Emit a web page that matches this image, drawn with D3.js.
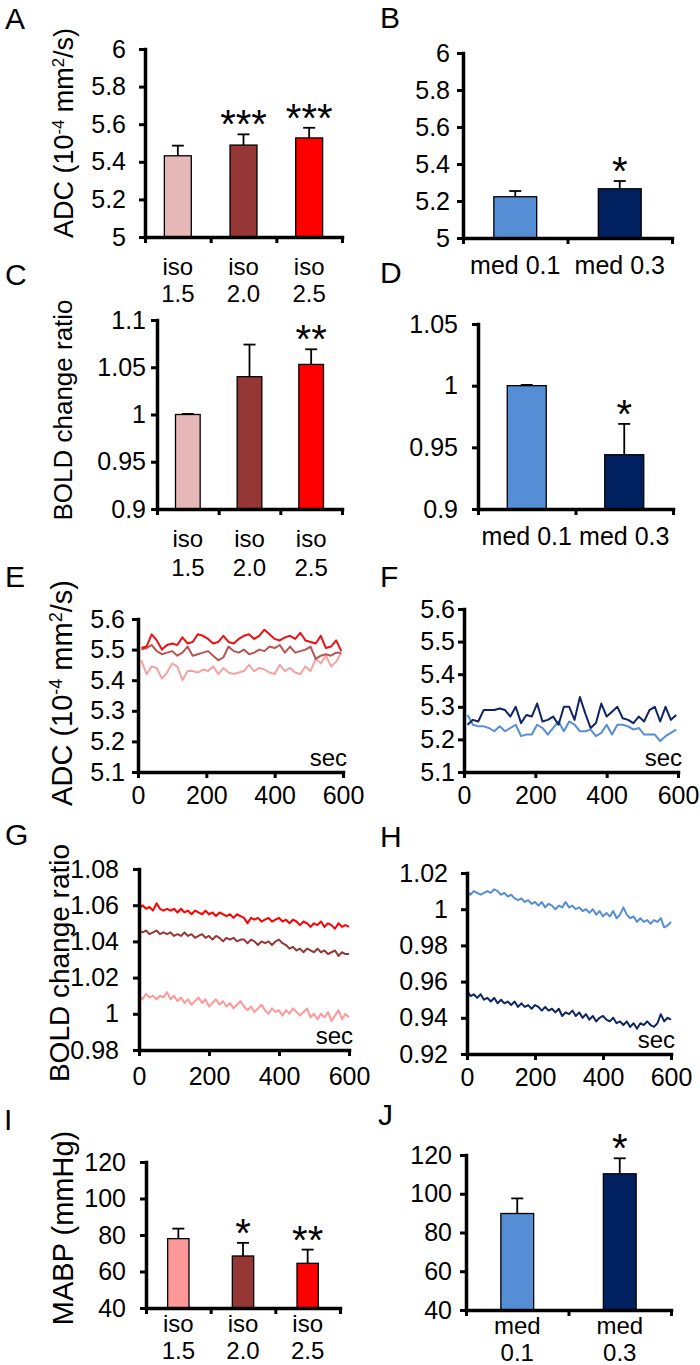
<!DOCTYPE html>
<html><head><meta charset="utf-8">
<script src="https://cdn.jsdelivr.net/npm/d3@7"></script>
<style>
body{margin:0;background:#fff}
svg text{font-family:"Liberation Sans",Arial,sans-serif;fill:#000}
</style>
</head><body>
<svg id="c" width="700" height="1365"></svg>
<script>
// ---------------- DATA ----------------
const catIso = [["iso","1.5"],["iso","2.0"],["iso","2.5"]];
const catMedOne = [["med 0.1"],["med 0.3"]];
const catMedTwo = [["med","0.1"],["med","0.3"]];

const adcIso = [5.432, 5.489, 5.527];
const adcIsoErr = [0.054, 0.057, 0.054];
const adcIsoSig = ["", "***", "***"];
const adcMed = [5.223, 5.266];
const adcMedErr = [0.031, 0.042];
const adcMedSig = ["", "*"];

const boldIso = [1.0, 1.04, 1.053];
const boldIsoErr = [0.0006, 0.034, 0.016];
const boldIsoSig = ["", "", "**"];
const boldMed = [1.0, 0.944];
const boldMedErr = [0.0006, 0.025];
const boldMedSig = ["", "*"];

const mabpIso = [78, 68.5, 64.5];
const mabpIsoErr = [5.5, 7.2, 7.5];
const mabpIsoSig = ["", "*", "**"];
const mabpMed = [89.8, 110.3];
const mabpMedErr = [7.8, 8.0];
const mabpMedSig = ["", "*"];

const tickADC = [5, 5.2, 5.4, 5.6, 5.8, 6];
const tickBoldIso = [0.9, 0.95, 1, 1.05, 1.1];
const tickBoldMed = [0.9, 0.95, 1, 1.05];
const tickAdcTime = [5.1, 5.2, 5.3, 5.4, 5.5, 5.6];
const tickBoldTimeIso = [0.98, 1, 1.02, 1.04, 1.06, 1.08];
const tickBoldTimeMed = [0.92, 0.94, 0.96, 0.98, 1, 1.02];
const tickMabp = [40, 60, 80, 100, 120];
const tickSec = [0, 200, 400, 600];

// ADC time courses (sec, 15-s sampling)
const secADC = [10,25,40,55,70,85,100,115,130,145,160,175,190,205,220,235,250,265,280,295,310,325,340,355,370,385,400,415,430,445,460,475,490,505,520,535,550,565,580,595];
const adcT_iso15 = [5.465,5.42,5.445,5.44,5.405,5.425,5.455,5.445,5.40,5.43,5.43,5.425,5.435,5.43,5.445,5.42,5.44,5.425,5.42,5.425,5.43,5.45,5.43,5.44,5.435,5.425,5.42,5.45,5.43,5.44,5.425,5.42,5.445,5.43,5.47,5.455,5.48,5.445,5.46,5.49];
const adcT_iso20 = [5.50,5.505,5.515,5.495,5.485,5.49,5.495,5.48,5.49,5.51,5.48,5.485,5.49,5.495,5.48,5.465,5.475,5.51,5.495,5.49,5.50,5.485,5.49,5.50,5.495,5.51,5.505,5.515,5.49,5.51,5.49,5.495,5.50,5.51,5.47,5.48,5.485,5.48,5.49,5.49];
const adcT_iso25 = [5.505,5.51,5.55,5.53,5.50,5.515,5.52,5.515,5.54,5.52,5.525,5.55,5.545,5.535,5.52,5.525,5.545,5.525,5.52,5.535,5.545,5.55,5.535,5.545,5.565,5.55,5.535,5.53,5.54,5.545,5.535,5.555,5.53,5.525,5.52,5.545,5.505,5.51,5.53,5.495];
const adcT_med01 = [5.275,5.245,5.24,5.24,5.235,5.225,5.24,5.225,5.235,5.245,5.21,5.215,5.215,5.245,5.235,5.215,5.235,5.255,5.225,5.255,5.245,5.225,5.225,5.23,5.21,5.22,5.245,5.215,5.245,5.245,5.24,5.23,5.235,5.215,5.215,5.215,5.195,5.21,5.22,5.23];
const adcT_med03 = [5.245,5.26,5.255,5.29,5.29,5.29,5.295,5.29,5.27,5.30,5.25,5.275,5.27,5.31,5.255,5.26,5.27,5.245,5.30,5.30,5.26,5.33,5.28,5.235,5.25,5.31,5.27,5.285,5.30,5.265,5.26,5.25,5.27,5.255,5.29,5.30,5.255,5.30,5.26,5.275];

// BOLD time courses (10-s sampling, 0..600 s)
const boldT_iso15 = [1.010,1.008,1.011,1.009,1.010,1.008, 1.010,1.009,1.012,1.008,1.010, 1.007,1.009,1.006,1.008,1.005, 1.007,1.009,1.006,1.008,1.004, 1.006,1.008,1.005,1.007,1.004, 1.006,1.003,1.005,1.007,1.004, 1.002,1.004,1.001,1.003,1.005, 1.002,1.000,1.003,1.001,1.002, 0.999,1.002,1.000,1.003,1.001, 0.999,1.001,1.003,0.998,1.000, 0.997,1.000,0.998,1.001,0.996, 0.999,1.002,0.997,1.000,0.998];
const boldT_iso20 = [1.046,1.045,1.046,1.044,1.045,1.046, 1.044,1.045,1.044,1.045,1.043, 1.044,1.043,1.045,1.043,1.044, 1.042,1.043,1.044,1.042,1.043, 1.041,1.043,1.042,1.040,1.042, 1.041,1.042,1.040,1.041,1.041, 1.039,1.041,1.040,1.038,1.040, 1.039,1.040,1.038,1.040,1.041, 1.039,1.038,1.036,1.037,1.035, 1.036,1.034,1.036,1.035,1.034, 1.036,1.034,1.035,1.033,1.034, 1.035,1.032,1.034,1.033,1.033];
const boldT_iso25 = [1.058,1.060,1.058,1.059,1.057,1.061, 1.058,1.057,1.058,1.057,1.058, 1.056,1.058,1.056,1.057,1.055, 1.057,1.056,1.055,1.057,1.055, 1.056,1.054,1.056,1.055,1.054, 1.055,1.053,1.055,1.054,1.053, 1.050,1.053,1.052,1.053,1.051, 1.052,1.053,1.051,1.052,1.053, 1.051,1.052,1.050,1.052,1.051, 1.049,1.051,1.050,1.048,1.050, 1.049,1.051,1.048,1.050,1.049, 1.047,1.050,1.048,1.049,1.048];
const boldT_med01 = [1.010,1.008,1.010,1.009,1.008,1.009, 1.010,1.009,1.011,1.010,1.008, 1.009,1.007,1.008,1.006,1.005, 1.006,1.004,1.005,1.003,1.004, 1.002,1.004,1.001,1.003,1.002, 1.000,1.002,1.001,1.004,1.001, 1.002,1.000,1.001,0.999,1.000, 0.998,1.000,0.997,0.999,0.996, 0.998,0.996,0.999,0.995,0.997, 1.001,0.997,0.995,0.996,0.993, 0.995,0.993,0.994,0.992,0.994, 0.993,0.995,0.990,0.991,0.993];
const boldT_med03 = [0.955,0.952,0.953,0.951,0.953,0.950, 0.951,0.949,0.951,0.948,0.950, 0.948,0.949,0.947,0.949,0.946, 0.948,0.946,0.947,0.945,0.947, 0.946,0.944,0.946,0.944,0.945, 0.943,0.945,0.941,0.943,0.942, 0.944,0.941,0.943,0.940,0.942, 0.939,0.941,0.938,0.940,0.941, 0.939,0.938,0.940,0.937,0.938, 0.936,0.938,0.935,0.937,0.934, 0.937,0.936,0.938,0.936,0.935, 0.937,0.942,0.938,0.940,0.939];

// ---------------- DRAWING ----------------
const svg = d3.select("#c");
const fmt = d => String(+d.toFixed(4));
const TICK_FS = 25;

function styleAxis(g) {
  g.select(".domain").attr("stroke", "#000").attr("stroke-width", 3.5).attr("stroke-linecap", "square");
  g.selectAll(".tick line").attr("stroke", "#000").attr("stroke-width", 3);
  g.selectAll(".tick text").attr("font-size", TICK_FS).attr("font-family", "Liberation Sans, Arial, sans-serif").attr("fill", "#000");
}

function yAxis(y, x0, ticks, gap) {
  const g = svg.append("g").attr("transform", `translate(${x0},0)`)
    .call(d3.axisLeft(y).tickValues(ticks).tickFormat(fmt).tickSize(6).tickSizeOuter(0).tickPadding(gap - 6));
  styleAxis(g);
  return g;
}

function panelLetter(txt, x, y) {
  svg.append("text").attr("x", x).attr("y", y).attr("font-size", 30).text(txt);
}

function yTitle(parts, bx, cy, fs) {
  const t = svg.append("text").attr("transform", `translate(${bx},${cy}) rotate(-90)`)
    .attr("text-anchor", "middle").attr("font-size", fs);
  parts.forEach(p => {
    const s = t.append("tspan").text(p[0]);
    if (p[1]) s.attr("baseline-shift", "super").attr("font-size", "62%");
  });
}

function barPanel(o) {
  const n = o.values.length;
  const y = d3.scaleLinear().domain(o.domain).range([o.y0, o.y1]);
  const xl = d3.scaleLinear().domain([0, n]).range([o.x0, o.x1]);
  const band = d3.scaleBand().domain(d3.range(n)).range([o.x0, o.x1]);
  const bw = band.bandwidth() * o.barFrac;
  const g = svg.append("g");
  g.selectAll("rect").data(o.values).join("rect")
    .attr("x", (d, i) => band(i) + (band.bandwidth() - bw) / 2)
    .attr("y", d => y(d)).attr("width", bw).attr("height", d => o.y0 - y(d))
    .attr("fill", (d, i) => o.colors[i]).attr("stroke", "#000").attr("stroke-width", 1.3);
  o.values.forEach((v, i) => {
    const cx = band(i) + band.bandwidth() / 2;
    const yt = y(v + o.err[i]);
    g.append("line").attr("x1", cx).attr("x2", cx).attr("y1", y(v)).attr("y2", yt).attr("stroke", "#000").attr("stroke-width", 1.8);
    g.append("line").attr("x1", cx - 6).attr("x2", cx + 6).attr("y1", yt).attr("y2", yt).attr("stroke", "#000").attr("stroke-width", 1.8);
    if (o.sig[i]) {
      g.append("text").attr("x", cx).attr("y", yt - 19 + 23).attr("text-anchor", "middle")
        .attr("font-size", 40).text(o.sig[i]);
    }
    o.cats[i].forEach((c, k) => {
      g.append("text").attr("x", cx).attr("y", o.y0 + o.labelOff[k]).attr("text-anchor", "middle")
        .attr("font-size", o.catFs || 24).text(c);
    });
  });
  yAxis(y, o.x0, o.ticks, o.gap);
  const gx = svg.append("g").attr("transform", `translate(0,${o.y0})`)
    .call(d3.axisBottom(xl).tickValues(d3.range(n + 1)).tickFormat("").tickSize(6).tickSizeOuter(0));
  styleAxis(gx);
}

function linePanel(o) {
  const x = d3.scaleLinear().domain([0, 600]).range([o.x0, o.x1]);
  const y = d3.scaleLinear().domain(o.domain).range([o.y0, o.y1]);
  o.series.forEach((s, k) => {
    const ts = o.times || s.map((d, i) => i * 600 / (s.length - 1));
    const line = d3.line().x((d, i) => x(ts[i])).y(d => y(d));
    svg.append("path").datum(s).attr("d", line).attr("fill", "none")
      .attr("stroke", o.colors[k]).attr("stroke-width", 2).attr("stroke-linejoin", "round");
  });
  yAxis(y, o.x0, o.ticks, o.gap);
  const gx = svg.append("g").attr("transform", `translate(0,${o.y0})`)
    .call(d3.axisBottom(x).tickValues(tickSec).tickFormat(d3.format("d")).tickSize(6).tickSizeOuter(0).tickPadding(o.xpad));
  styleAxis(gx);
  svg.append("text").attr("x", o.x1 + 4).attr("y", o.y0 - 6).attr("text-anchor", "end").attr("font-size", 24).text("sec");
}

const colIso = ["#E6B9B8", "#953735", "#FF0000"];
const colIsoI = ["#FF9999", "#953735", "#FF0000"];
const colMed = ["#558ED5", "#002060"];

// A
panelLetter("A", 5, 29);
yTitle([["ADC (10"], ["-4", 1], [" mm"], ["2", 1], ["/s)"]], 73, 133, 27);
barPanel({values: adcIso, err: adcIsoErr, sig: adcIsoSig, cats: catIso, colors: colIso,
  domain: [5, 6], ticks: tickADC, x0: 145, x1: 342, y0: 237, y1: 49, barFrac: 0.41, gap: 19, labelOff: [38, 65]});
// B
panelLetter("B", 380, 28);
barPanel({values: adcMed, err: adcMedErr, sig: adcMedSig, cats: catMedOne, colors: colMed,
  domain: [5, 6], ticks: tickADC, x0: 463, x1: 672, y0: 238, y1: 53, barFrac: 0.41, gap: 13, labelOff: [36], catFs: 25});
// C
panelLetter("C", 5, 285);
yTitle([["BOLD change ratio"]], 72, 410, 26);
barPanel({values: boldIso, err: boldIsoErr, sig: boldIsoSig, cats: catIso, colors: colIso,
  domain: [0.9, 1.1], ticks: tickBoldIso, x0: 157, x1: 342, y0: 509, y1: 320, barFrac: 0.4, gap: 11, labelOff: [38, 67]});
// D
panelLetter("D", 380, 283);
barPanel({values: boldMed, err: boldMedErr, sig: boldMedSig, cats: catMedOne, colors: colMed,
  domain: [0.9, 1.05], ticks: tickBoldMed, x0: 478, x1: 673, y0: 509, y1: 324, barFrac: 0.4, gap: 20, labelOff: [36], catFs: 25});
// E
panelLetter("E", 5, 587);
yTitle([["ADC (10"], ["-4", 1], [" mm"], ["2", 1], ["/s)"]], 72, 693, 29);
linePanel({series: [adcT_iso15, adcT_iso20, adcT_iso25], times: secADC, colors: ["#F4A3A3", "#B85452", "#EE1111"],
  domain: [5.1, 5.6], ticks: tickAdcTime, x0: 138, x1: 343, y0: 772, y1: 619, gap: 13, xpad: 8});
// F
panelLetter("F", 380, 587);
linePanel({series: [adcT_med01, adcT_med03], times: secADC, colors: ["#558ED5", "#0D2563"],
  domain: [5.1, 5.6], ticks: tickAdcTime, x0: 464, x1: 678, y0: 772, y1: 609, gap: 9, xpad: 8});
// G
panelLetter("G", 5, 845);
yTitle([["BOLD change ratio"]], 69, 963, 28);
linePanel({series: [boldT_iso15, boldT_iso20, boldT_iso25], colors: ["#FF9999", "#953735", "#FF0000"],
  domain: [0.98, 1.08], ticks: tickBoldTimeIso, x0: 139, x1: 349, y0: 1050, y1: 869, gap: 20, xpad: 11});
// H
panelLetter("H", 380, 847);
linePanel({series: [boldT_med01, boldT_med03], colors: ["#558ED5", "#0D2563"],
  domain: [0.92, 1.02], ticks: tickBoldTimeMed, x0: 467, x1: 671, y0: 1054, y1: 873, gap: 19, xpad: 8});
// I
panelLetter("I", 4, 1130);
yTitle([["MABP (mmHg)"]], 73, 1228, 29);
barPanel({values: mabpIso, err: mabpIsoErr, sig: mabpIsoSig, cats: catIso, colors: colIsoI,
  domain: [40, 120], ticks: tickMabp, x0: 146, x1: 340, y0: 1308, y1: 1162, barFrac: 0.33, gap: 20, labelOff: [24, 51]});
// J
panelLetter("J", 378, 1125);
barPanel({values: mabpMed, err: mabpMedErr, sig: mabpMedSig, cats: catMedTwo, colors: colMed,
  domain: [40, 120], ticks: tickMabp, x0: 466, x1: 671, y0: 1310, y1: 1155, barFrac: 0.32, gap: 14, labelOff: [24, 51]});
</script>
</body></html>
